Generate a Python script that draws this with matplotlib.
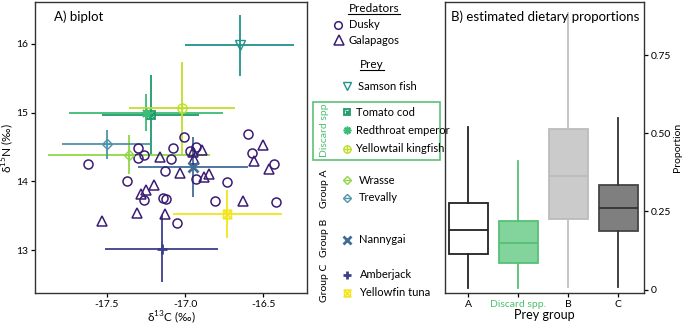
import matplotlib
matplotlib.use("Agg")
import matplotlib.pyplot as plt
from matplotlib.patches import Rectangle
from matplotlib.path import Path

plt.rcParams['font.family'] = ['Lato', 'DejaVu Sans']
plt.rcParams['mathtext.fontset'] = 'custom'
plt.rcParams['mathtext.rm'] = 'Lato'

# predators (individual sharks)
dusky_x = [-17.62, -17.30, -17.30, -17.26, -17.37, -17.26, -17.14, -17.12, -17.13, -17.09, -17.08,
           -17.01, -16.97, -16.93, -16.93, -17.05, -16.81, -16.73, -16.60, -16.57, -16.43, -16.42]
dusky_y = [14.25, 14.49, 14.34, 14.38, 14.01, 13.73, 13.76, 13.74, 14.15, 14.32, 14.49,
           14.64, 14.44, 14.50, 14.03, 13.39, 13.72, 13.99, 14.69, 14.41, 14.25, 13.70]
galap_x = [-17.53, -17.31, -17.28, -17.25, -17.20, -17.16, -17.13, -17.03, -16.95, -16.94, -16.89,
           -16.88, -16.85, -16.63, -16.56, -16.50, -16.46]
galap_y = [13.42, 13.54, 13.82, 13.87, 13.95, 14.35, 13.53, 14.12, 14.42, 14.32, 14.46,
           14.06, 14.10, 13.71, 14.30, 14.53, 14.18]

# prey means +- sd
prey_names = ['Samson fish', 'Tomato cod', 'Redthroat emperor', 'Yellowtail kingfish', 'Wrasse',
              'Trevally', 'Nannygai', 'Amberjack', 'Yellowfin tuna']
prey_x = [-16.65, -17.22, -17.25, -17.02, -17.36, -17.50, -16.95, -17.15, -16.73]
prey_y = [15.98, 14.97, 15.00, 15.06, 14.39, 14.54, 14.21, 13.02, 13.52]
prey_xsd = [0.35, 0.31, 0.49, 0.34, 0.52, 0.29, 0.35, 0.36, 0.35]
prey_ysd = [0.44, 0.58, 0.27, 0.67, 0.29, 0.21, 0.44, 0.49, 0.35]
prey_colors = ['#23918c', '#1f9a6a', '#3dbc74', '#bddf26', '#8fd744',
               '#4d94a8', '#416c98', '#3b3f8c', '#f3e51e']

# dietary proportions (box stats)
groups = ['A', 'Discard spp.', 'B', 'C']
whis_lo = [0.004, 0.004, 0.009, 0.007]
q1 = [0.113, 0.086, 0.225, 0.187]
med = [0.190, 0.148, 0.363, 0.260]
q3 = [0.276, 0.220, 0.514, 0.335]
whis_hi = [0.521, 0.412, 0.885, 0.548]

PRED = '#3b1c74'
GREEN = '#4cc16d'

hourglass = Path([(-1, 1), (1, 1), (-1, -1), (1, -1), (-1, 1)],
                 [Path.MOVETO, Path.LINETO, Path.LINETO, Path.LINETO, Path.CLOSEPOLY])

# marker layers per prey: list of (marker, size, lw)
prey_markers = [
    [('v', 7, 1.0)],
    [('s', 6, 1.3), ('x', 4, 1.0)],
    [((8, 2, 0), 7, 1.2)],
    [('o', 6.5, 1.0), ('+', 6.5, 1.0)],
    [('D', 5.5, 1.0), ('_', 6, 1.0)],
    [('D', 5.5, 1.0), ('_', 6, 1.0)],
    [('x', 6.5, 2.0)],
    [('+', 7, 2.0)],
    [(hourglass, 6, 1.2), ('s', 6, 1.0)],
]


def draw_marker(ax, x, y, layers, color, scale=1.0):
    for m, s, lw in layers:
        ax.plot(x, y, marker=m, ms=s * scale, mew=lw, mfc='none', mec=color,
                color=color, ls='none', zorder=5)


W, H = 685, 326
fig = plt.figure(figsize=(W / 100, H / 100), dpi=100)


def px_axes(x0, y0, x1, y1):
    return fig.add_axes([x0 / W, 1 - y1 / H, (x1 - x0) / W, (y1 - y0) / H])


# ---- A) biplot ----
ax = px_axes(35, 2, 307, 293.3)
for i in range(len(prey_names)):
    ax.errorbar(prey_x[i], prey_y[i], xerr=prey_xsd[i], yerr=prey_ysd[i], fmt='none',
                ecolor=prey_colors[i], elinewidth=1.3, capsize=0, zorder=3)
    draw_marker(ax, prey_x[i], prey_y[i], prey_markers[i], prey_colors[i])
ax.plot(dusky_x, dusky_y, 'o', ms=6.5, mfc='none', mec=PRED, mew=1.1, zorder=4)
ax.plot(galap_x, galap_y, '^', ms=7, mfc='none', mec=PRED, mew=1.1, zorder=4)
ax.set_xlim(-17.96, -16.22)
ax.set_ylim(12.37, 16.61)
ax.set_xticks([-17.5, -17.0, -16.5])
ax.set_xticklabels(['-17.5', '-17.0', '-16.5'])
ax.set_yticks([13, 14, 15, 16])
ax.tick_params(labelsize=7.5, length=3, width=0.9, pad=2)
ax.set_xlabel('δ$^{\\mathregular{13}}$C (‰)', fontsize=8.5, labelpad=0)
ax.set_ylabel('δ$^{\\mathregular{15}}$N (‰)', fontsize=8.5)
ax.yaxis.label.set_va('center')
ax.yaxis.set_label_coords(-27 / 272, 0.5)
ax.text(0.07, 0.935, 'A) biplot', transform=ax.transAxes, fontsize=9.5)
for sp in ax.spines.values():
    sp.set_linewidth(1.0)
    sp.set_color('#333333')

# ---- B) dietary proportions ----
bx = px_axes(445, 2, 644.3, 293.3)
stats = [dict(label=g, whislo=whis_lo[i], q1=q1[i], med=med[i], q3=q3[i], whishi=whis_hi[i])
         for i, g in enumerate(groups)]
face = ['white', '#82d39c', '#cbcbcb', '#7f7f7f']
edge = ['#222222', '#55c175', '#bcbcbc', '#454545']
line = ['#222222', '#55c175', '#c0c0c0', '#333333']
for i, st in enumerate(stats):
    bx.bxp([st], positions=[i + 1], widths=0.77, showcaps=False, showfliers=False,
           patch_artist=True,
           boxprops=dict(facecolor=face[i], edgecolor=edge[i], linewidth=1.3),
           whiskerprops=dict(color=line[i], linewidth=1.3),
           medianprops=dict(color=edge[i] if i != 3 else '#333333', linewidth=1.3))
bx.set_xlim(0.53, 4.52)
bx.set_ylim(-0.012, 0.92)
bx.set_xticks([1, 2, 3, 4])
bx.set_xticklabels(groups)
bx.get_xticklabels()[1].set_color(GREEN)
bx.yaxis.tick_right()
bx.yaxis.set_label_position('right')
bx.set_yticks([0, 0.25, 0.5, 0.75])
bx.set_yticklabels(['0', '0.25', '0.50', '0.75'])
bx.tick_params(labelsize=7.5, length=3, width=0.9, pad=2)
bx.set_xlabel('Prey group', fontsize=9, labelpad=0)
bx.set_ylabel('Proportion', fontsize=7.5)
bx.yaxis.label.set_va('center')
bx.yaxis.set_label_coords((677.5 - 445) / 199.3, 0.5)
bx.text(0.03, 0.935, 'B) estimated dietary proportions', transform=bx.transAxes, fontsize=9.5)
for sp in bx.spines.values():
    sp.set_linewidth(1.0)
    sp.set_color('#333333')

# ---- legend (pixel layout) ----
lg = fig.add_axes([0, 0, 1, 1])
lg.set_xlim(0, W)
lg.set_ylim(H, 0)
lg.axis('off')

lg.text(374, 8.5, 'Predators', fontsize=8.5, ha='center', va='center')
lg.plot([348, 400], [14, 14], color='black', lw=0.8)
lg.plot(338, 25, 'o', ms=5.5, mfc='none', mec=PRED, mew=1.1)
lg.text(349, 25, 'Dusky', fontsize=8, va='center')
lg.plot(339, 40, '^', ms=6.5, mfc='none', mec=PRED, mew=1.1)
lg.text(349, 40, 'Galapagos', fontsize=8, va='center')

lg.text(372, 64, 'Prey', fontsize=8.5, ha='center', va='center')
lg.plot([360, 384], [69.5, 69.5], color='black', lw=0.8)

prey_leg_y = [86, 112, 130, 149, 180, 197.5, 239.5, 275, 292.5]
prey_leg_tx = [358, 356, 356, 355, 359, 359, 359, 360, 359]
for i, name in enumerate(prey_names):
    draw_marker(lg, 347.5, prey_leg_y[i], prey_markers[i], prey_colors[i], scale=0.8)
    lg.text(prey_leg_tx[i], prey_leg_y[i], name, fontsize=8, va='center')

lg.add_patch(Rectangle((313.5, 101.5), 126.5, 58, fill=False, edgecolor='#5cc178', lw=1.2))
lg.text(325, 130.5, 'Discard spp', rotation=90, fontsize=7.5, color=GREEN, ha='center', va='center')
lg.text(324.5, 189, 'Group A', rotation=90, fontsize=7.5, ha='center', va='center')
lg.text(324.5, 237.5, 'Group B', rotation=90, fontsize=7.5, ha='center', va='center')
lg.text(324.5, 283, 'Group C', rotation=90, fontsize=7.5, ha='center', va='center')

fig.savefig('out.png', dpi=100)
